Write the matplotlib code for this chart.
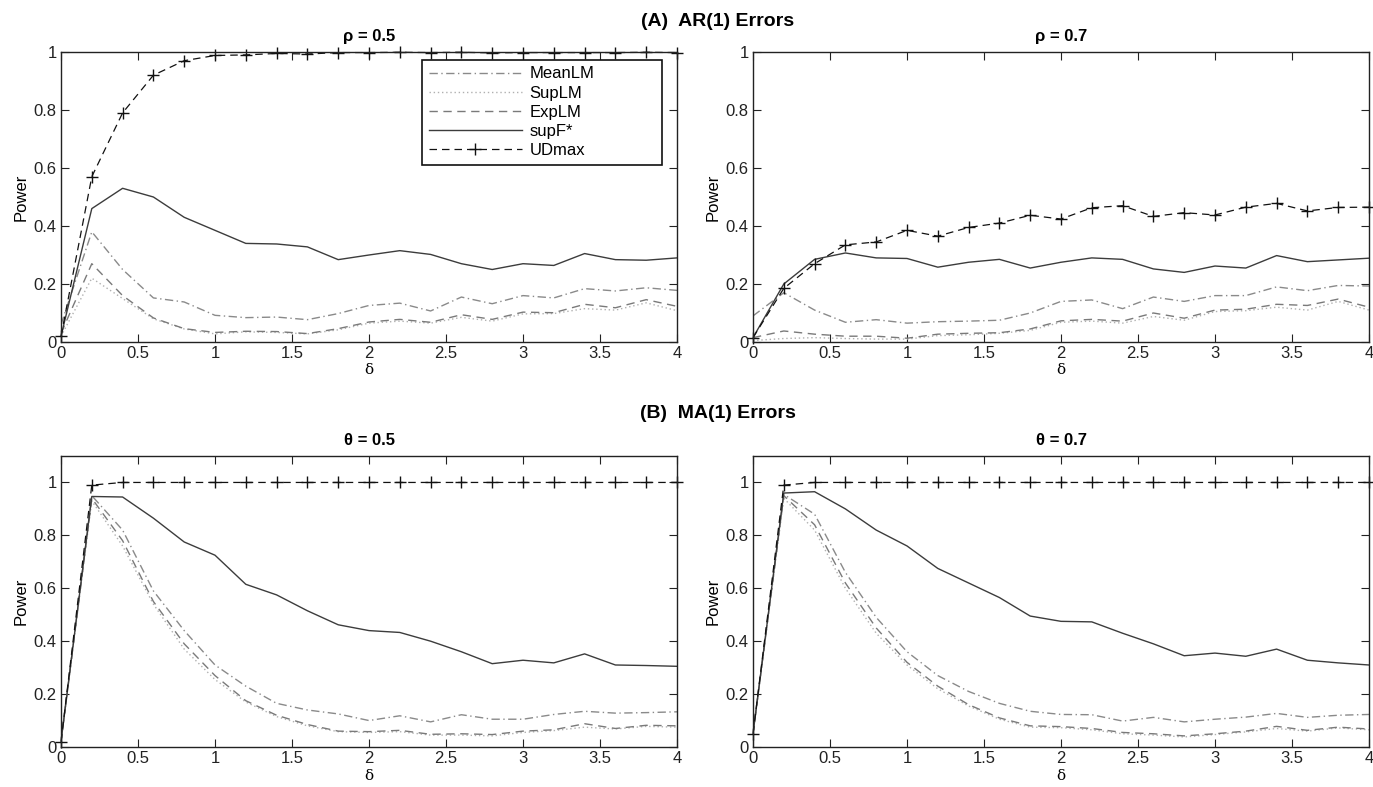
import numpy as np
import matplotlib
matplotlib.use("Agg")
import matplotlib.pyplot as plt

plt.rcParams['font.family'] = ['Liberation Sans Narrow', 'Liberation Sans', 'DejaVu Sans']

delta = [0.0, 0.2, 0.4, 0.6, 0.8, 1.0, 1.2, 1.4, 1.6, 1.8, 2.0,
         2.2, 2.4, 2.6, 2.8, 3.0, 3.2, 3.4, 3.6, 3.8, 4.0]

# (A) AR(1), rho = 0.5
ar5_mean = [0.06, 0.38, 0.25, 0.152, 0.138, 0.092, 0.084, 0.086, 0.077, 0.098, 0.126,
            0.134, 0.107, 0.155, 0.132, 0.16, 0.152, 0.184, 0.176, 0.187, 0.178]
ar5_sup = [0.02, 0.22, 0.15, 0.08, 0.045, 0.028, 0.035, 0.033, 0.028, 0.042, 0.065,
           0.072, 0.065, 0.085, 0.072, 0.097, 0.098, 0.115, 0.11, 0.135, 0.108]
ar5_exp = [0.03, 0.27, 0.16, 0.083, 0.046, 0.033, 0.037, 0.036, 0.029, 0.046, 0.069,
           0.078, 0.068, 0.094, 0.078, 0.103, 0.101, 0.13, 0.118, 0.146, 0.123]
ar5_supf = [0.02, 0.46, 0.53, 0.50, 0.43, 0.385, 0.34, 0.338, 0.328, 0.284, 0.30,
            0.315, 0.302, 0.27, 0.25, 0.27, 0.264, 0.305, 0.284, 0.282, 0.29]
ar5_ud = [0.02, 0.57, 0.79, 0.92, 0.97, 0.988, 0.99, 0.995, 0.993, 0.998, 0.998,
          0.999, 0.998, 0.999, 0.997, 0.998, 0.998, 0.998, 0.998, 0.999, 0.998]

# (A) AR(1), rho = 0.7
ar7_mean = [0.09, 0.17, 0.11, 0.068, 0.077, 0.065, 0.07, 0.072, 0.075, 0.1, 0.14,
            0.145, 0.115, 0.155, 0.14, 0.16, 0.16, 0.19, 0.177, 0.195, 0.193]
ar7_sup = [0.005, 0.012, 0.015, 0.012, 0.01, 0.01, 0.022, 0.025, 0.03, 0.04, 0.068,
           0.072, 0.065, 0.088, 0.075, 0.105, 0.108, 0.12, 0.11, 0.14, 0.11]
ar7_exp = [0.015, 0.038, 0.027, 0.02, 0.02, 0.013, 0.027, 0.03, 0.032, 0.045, 0.073,
           0.078, 0.072, 0.1, 0.082, 0.11, 0.113, 0.13, 0.126, 0.148, 0.12]
ar7_supf = [0.015, 0.2, 0.285, 0.307, 0.29, 0.288, 0.258, 0.275, 0.285, 0.255, 0.275,
            0.29, 0.285, 0.252, 0.24, 0.262, 0.255, 0.298, 0.277, 0.283, 0.289]
ar7_ud = [0.015, 0.185, 0.27, 0.335, 0.345, 0.385, 0.365, 0.395, 0.41, 0.437, 0.424,
          0.463, 0.47, 0.433, 0.446, 0.438, 0.465, 0.478, 0.452, 0.464, 0.465]

# (B) MA(1), theta = 0.5
ma5_mean = [0.02, 0.95, 0.82, 0.59, 0.44, 0.31, 0.23, 0.165, 0.14, 0.125, 0.1,
            0.118, 0.095, 0.122, 0.105, 0.105, 0.123, 0.135, 0.128, 0.13, 0.133]
ma5_sup = [0.02, 0.93, 0.76, 0.54, 0.37, 0.255, 0.17, 0.115, 0.08, 0.058, 0.055,
           0.058, 0.045, 0.045, 0.042, 0.055, 0.062, 0.075, 0.068, 0.078, 0.075]
ma5_exp = [0.02, 0.94, 0.78, 0.55, 0.39, 0.27, 0.175, 0.12, 0.085, 0.06, 0.058,
           0.063, 0.048, 0.05, 0.047, 0.06, 0.065, 0.088, 0.07, 0.082, 0.08]
ma5_supf = [0.02, 0.947, 0.945, 0.865, 0.775, 0.725, 0.615, 0.575, 0.515, 0.462, 0.44,
            0.433, 0.4, 0.36, 0.315, 0.328, 0.318, 0.352, 0.31, 0.308, 0.305]
ma5_ud = [0.02, 0.99, 1.0, 1.0, 1.0, 1.0, 1.0, 1.0, 1.0, 1.0, 1.0,
          1.0, 1.0, 1.0, 1.0, 1.0, 1.0, 1.0, 1.0, 1.0, 1.0]

# (B) MA(1), theta = 0.7
ma7_mean = [0.05, 0.955, 0.88, 0.66, 0.49, 0.36, 0.27, 0.21, 0.165, 0.135, 0.123,
            0.122, 0.098, 0.112, 0.095, 0.105, 0.113, 0.127, 0.112, 0.12, 0.123]
ma7_sup = [0.05, 0.94, 0.82, 0.6, 0.43, 0.31, 0.22, 0.155, 0.105, 0.075, 0.073,
           0.065, 0.05, 0.045, 0.038, 0.047, 0.057, 0.07, 0.06, 0.072, 0.065]
ma7_exp = [0.05, 0.95, 0.84, 0.62, 0.45, 0.32, 0.23, 0.16, 0.11, 0.08, 0.077,
           0.07, 0.055, 0.05, 0.042, 0.05, 0.06, 0.078, 0.063, 0.075, 0.068]
ma7_supf = [0.05, 0.96, 0.965, 0.9, 0.82, 0.76, 0.675, 0.62, 0.565, 0.495, 0.475,
            0.473, 0.43, 0.39, 0.345, 0.355, 0.343, 0.37, 0.328, 0.318, 0.31]
ma7_ud = [0.05, 0.99, 1.0, 1.0, 1.0, 1.0, 1.0, 1.0, 1.0, 1.0, 1.0,
          1.0, 1.0, 1.0, 1.0, 1.0, 1.0, 1.0, 1.0, 1.0, 1.0]

series_names = ["MeanLM", "SupLM", "ExpLM", "supF*", "UDmax"]
xticks = [0, 0.5, 1, 1.5, 2, 2.5, 3, 3.5, 4]
xticklabels = ["0", "0.5", "1", "1.5", "2", "2.5", "3", "3.5", "4"]
yticks = [0, 0.2, 0.4, 0.6, 0.8, 1.0]
yticklabels = ["0", "0.2", "0.4", "0.6", "0.8", "1"]

W, H = 1373, 787
fig = plt.figure(figsize=(W / 100, H / 100), dpi=100)


def box(x0, y0, x1, y1):
    return [x0 / W, 1 - y1 / H, (x1 - x0) / W, (y1 - y0) / H]


styles = [
    dict(color="#8a8a8a", ls=(0, (6, 2.5, 1, 2.5)), lw=1.0),
    dict(color="#b0b0b0", ls=(0, (1, 2)), lw=1.0),
    dict(color="#7a7a7a", ls=(0, (6, 4)), lw=1.0),
    dict(color="#3c3c3c", ls="-", lw=1.0),
    dict(color="#111111", ls=(0, (6, 4)), lw=0.9, marker="+", ms=8, mew=1.0,
         clip_on=False),
]

panels = [
    (box(61, 52, 677, 342), "ρ = 0.5", 1.0, [ar5_mean, ar5_sup, ar5_exp, ar5_supf, ar5_ud], True, 1),
    (box(753, 52, 1369, 342), "ρ = 0.7", 1.0, [ar7_mean, ar7_sup, ar7_exp, ar7_supf, ar7_ud], False, 1),
    (box(61, 456, 677, 747), "θ = 0.5", 1.1, [ma5_mean, ma5_sup, ma5_exp, ma5_supf, ma5_ud], False, 2),
    (box(753, 456, 1369, 747), "θ = 0.7", 1.1, [ma7_mean, ma7_sup, ma7_exp, ma7_supf, ma7_ud], False, 2),
]

for rect, title, ytop, data, show_leg, xlpad in panels:
    ax = fig.add_axes(rect)
    for name, vals, st in zip(series_names, data, styles):
        ax.plot(delta, vals, label=name, **st)
    ax.set_xlim(0, 4)
    ax.set_ylim(0, ytop)
    ax.set_xticks(xticks)
    ax.set_xticklabels(xticklabels)
    ax.set_yticks(yticks)
    ax.set_yticklabels(yticklabels)
    ax.tick_params(direction="in", length=6, width=0.8, top=True, right=True,
                   labelsize=12, pad=3, colors="#222222")
    for sp in ax.spines.values():
        sp.set_linewidth(1.0)
        sp.set_color("#222222")
    ax.set_title(title, fontsize=12, fontweight="bold", pad=8)
    ax.set_ylabel("Power", fontsize=12, labelpad=4)
    ax.set_xlabel("δ", fontsize=11, labelpad=xlpad, family=["DejaVu Serif"])
    if show_leg:
        leg = ax.legend(loc="upper left",
                        bbox_to_anchor=((422 - 61) / 616, 0.3, (662 - 422) / 616, 0.673),
                        mode="expand", borderaxespad=0, fancybox=False,
                        edgecolor="#111111", fontsize=12, handlelength=5.6,
                        handletextpad=0.45, labelspacing=0.25, borderpad=0.4,
                        framealpha=1)
        leg.get_frame().set_linewidth(1.2)

fig.text(718 / W, 1 - 22 / H, "(A)  AR(1) Errors", ha="center", va="center",
         fontsize=14, fontweight="bold")
fig.text(718 / W, 1 - 413 / H, "(B)  MA(1) Errors", ha="center", va="center",
         fontsize=14, fontweight="bold")

fig.savefig("out.png", dpi=100)
